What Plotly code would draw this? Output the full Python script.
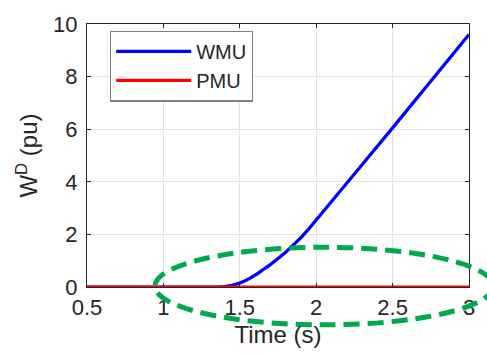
import plotly.graph_objects as go

time_wmu = [0.5, 1.0, 1.3, 1.4, 1.45, 1.5, 1.55, 1.6, 1.65, 1.7, 1.75, 1.8, 1.85, 1.9, 1.95, 2.0, 2.5, 3.0]
wmu = [0, 0, 0, 0.02, 0.06, 0.15, 0.28, 0.45, 0.65, 0.85, 1.08, 1.32, 1.6, 1.88, 2.2, 2.55, 6.05, 9.6]
time_pmu = [0.5, 3.0]
pmu = [0, 0]

x_ticks = [0.5, 1, 1.5, 2, 2.5, 3]
x_tick_labels = ["0.5", "1", "1.5", "2", "2.5", "3"]
y_ticks = [0, 2, 4, 6, 8, 10]

txt = "#262626"
fnt = "Liberation Sans, Arial"
fig = go.Figure()
fig.add_trace(go.Scatter(x=time_wmu, y=wmu, mode="lines", name="WMU",
                         line=dict(color="#0000ff", width=3.2, shape="spline", smoothing=0.6)))
fig.add_trace(go.Scatter(x=time_pmu, y=pmu, mode="lines", name="PMU",
                         line=dict(color="#ff0000", width=3.2)))

axis_common = dict(showline=True, linecolor=txt, linewidth=1, mirror="ticks",
                   ticks="inside", ticklen=4, tickcolor=txt,
                   showgrid=True, gridcolor="#e3e3e3", gridwidth=1, zeroline=False,
                   tickfont=dict(family=fnt, size=22, color=txt))

fig.update_xaxes(range=[0.5, 3], tickvals=x_ticks, ticktext=x_tick_labels,
                 title=dict(text="Time (s)", font=dict(family=fnt, size=24, color=txt), standoff=6),
                 ticklabelstandoff=1, **axis_common)
fig.update_yaxes(range=[0, 10], tickvals=y_ticks,
                 title=dict(text="W<sup>D</sup> (pu)", font=dict(family=fnt, size=24, color=txt), standoff=8),
                 ticklabelstandoff=4, **axis_common)

# highlight ellipse (annotation mark, in paper coordinates)
fig.add_shape(type="circle", xref="paper", yref="paper",
              x0=0.178, x1=1.063, y0=-0.144, y1=0.151,
              line=dict(color="#00a84f", width=5, dash="16px,8px"), layer="above")

fig.update_layout(
    width=487, height=356,
    margin=dict(l=87, r=18, t=16, b=69),
    paper_bgcolor="white", plot_bgcolor="white",
    font=dict(family=fnt, color=txt),
    legend=dict(x=0.06, y=0.975, xanchor="left", yanchor="top",
                bgcolor="white", bordercolor="#7f7f7f", borderwidth=1.3,
                font=dict(size=20, color=txt), itemwidth=75, tracegroupgap=0),
    showlegend=True,
)

fig.write_html("out.html")
